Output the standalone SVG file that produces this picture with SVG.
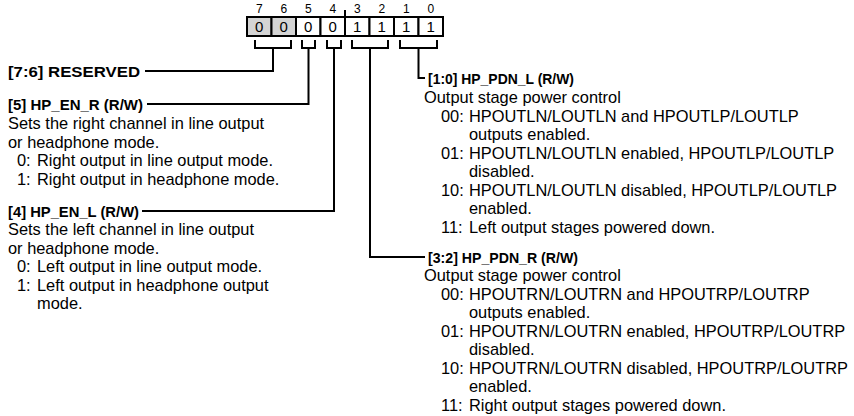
<svg xmlns="http://www.w3.org/2000/svg" width="854" height="416" viewBox="0 0 854 416">
<style>
text{font-family:"Liberation Sans",Arial,sans-serif;fill:#000}
.b{font-size:16.4px}
.h{font-size:15px;font-weight:bold}
.n{font-size:12px;text-anchor:middle}
.d{font-size:15px;text-anchor:middle}
.ln{fill:none;stroke:#000;stroke-width:2;stroke-linejoin:miter;stroke-linecap:square}
.cw{fill:#fff;stroke:#000;stroke-width:2}
.cg{fill:#d4d4d4;stroke:#000;stroke-width:2}
</style>
<rect width="854" height="416" fill="#fff"/>
<g id="register">
<text x="259.25" y="13" class="n">7</text><text x="283.75" y="13" class="n">6</text><text x="308.25" y="13" class="n">5</text><text x="332.75" y="13" class="n">4</text><text x="357.25" y="13" class="n">3</text><text x="381.75" y="13" class="n">2</text><text x="406.25" y="13" class="n">1</text><text x="430.75" y="13" class="n">0</text>
<line x1="345" y1="11" x2="345" y2="17" class="ln"/>
<rect x="247" y="17" width="24.5" height="19" class="cg"/>
<rect x="271.5" y="17" width="24.5" height="19" class="cg"/>
<rect x="296" y="17" width="24.5" height="19" class="cw"/>
<rect x="320.5" y="17" width="24.5" height="19" class="cw"/>
<rect x="345" y="17" width="24.5" height="19" class="cw"/>
<rect x="369.5" y="17" width="24.5" height="19" class="cw"/>
<rect x="394" y="17" width="24.5" height="19" class="cw"/>
<rect x="418.5" y="17" width="24.5" height="19" class="cw"/>
<text x="259.25" y="32" class="d">0</text><text x="283.75" y="32" class="d">0</text><text x="308.25" y="32" class="d">0</text><text x="332.75" y="32" class="d">0</text><text x="357.25" y="32" class="d">1</text><text x="381.75" y="32" class="d">1</text><text x="406.25" y="32" class="d">1</text><text x="430.75" y="32" class="d">1</text>
</g>
<g id="connectors">
<path class="ln" d="M255,41V48H291V41M273,48V71H146"/>
<path class="ln" d="M302,41V48H315V41M308.5,48V104H148"/>
<path class="ln" d="M327,41V48H341V41M334,48V211H143"/>
<path class="ln" d="M352,41V48H388V41M370,48V257H424"/>
<path class="ln" d="M400,41V48H437V41M418.5,48V78H424"/>
</g>
<g id="f76">
<text x="8" y="76.5" class="h" textLength="132" lengthAdjust="spacingAndGlyphs">[7:6] RESERVED</text>
</g>
<g id="f5">
<text x="8" y="109.5" class="h" textLength="135" lengthAdjust="spacingAndGlyphs">[5] HP_EN_R (R/W)</text>
<text x="8" y="129" class="b">Sets the right channel in line output</text>
<text x="8" y="147.5" class="b">or headphone mode.</text>
<text x="17" y="166" class="b">0:</text><text x="37" y="166" class="b">Right output in line output mode.</text>
<text x="17" y="184.5" class="b">1:</text><text x="37" y="184.5" class="b">Right output in headphone mode.</text>
</g>
<g id="f4">
<text x="8" y="216.5" class="h" textLength="131" lengthAdjust="spacingAndGlyphs">[4] HP_EN_L (R/W)</text>
<text x="8" y="235" class="b">Sets the left channel in line output</text>
<text x="8" y="253.5" class="b">or headphone mode.</text>
<text x="17" y="272" class="b">0:</text><text x="37" y="272" class="b">Left output in line output mode.</text>
<text x="17" y="290.5" class="b">1:</text><text x="37" y="290.5" class="b">Left output in headphone output</text>
<text x="37" y="309" class="b">mode.</text>
</g>
<g id="f10">
<text x="428" y="83.5" class="h" textLength="146" lengthAdjust="spacingAndGlyphs">[1:0] HP_PDN_L (R/W)</text>
<text x="424" y="103" class="b">Output stage power control</text>
<text x="441" y="121.5" class="b">00:</text><text x="469" y="121.5" class="b">HPOUTLN/LOUTLN and HPOUTLP/LOUTLP</text>
<text x="469" y="140" class="b">outputs enabled.</text>
<text x="441" y="158.5" class="b">01:</text><text x="469" y="158.5" class="b">HPOUTLN/LOUTLN enabled, HPOUTLP/LOUTLP</text>
<text x="469" y="177" class="b">disabled.</text>
<text x="441" y="195.5" class="b">10:</text><text x="469" y="195.5" class="b">HPOUTLN/LOUTLN disabled, HPOUTLP/LOUTLP</text>
<text x="469" y="214" class="b">enabled.</text>
<text x="441" y="232.5" class="b">11:</text><text x="469" y="232.5" class="b">Left output stages powered down.</text>
</g>
<g id="f32">
<text x="428" y="262.5" class="h" textLength="150" lengthAdjust="spacingAndGlyphs">[3:2] HP_PDN_R (R/W)</text>
<text x="424" y="281" class="b">Output stage power control</text>
<text x="441" y="299.5" class="b">00:</text><text x="469" y="299.5" class="b">HPOUTRN/LOUTRN and HPOUTRP/LOUTRP</text>
<text x="469" y="318" class="b">outputs enabled.</text>
<text x="441" y="336.5" class="b">01:</text><text x="469" y="336.5" class="b">HPOUTRN/LOUTRN enabled, HPOUTRP/LOUTRP</text>
<text x="469" y="355" class="b">disabled.</text>
<text x="441" y="373.5" class="b">10:</text><text x="469" y="373.5" class="b" textLength="379" lengthAdjust="spacingAndGlyphs">HPOUTRN/LOUTRN disabled, HPOUTRP/LOUTRP</text>
<text x="469" y="392" class="b">enabled.</text>
<text x="441" y="410.5" class="b">11:</text><text x="469" y="410.5" class="b">Right output stages powered down.</text>
</g>
</svg>
